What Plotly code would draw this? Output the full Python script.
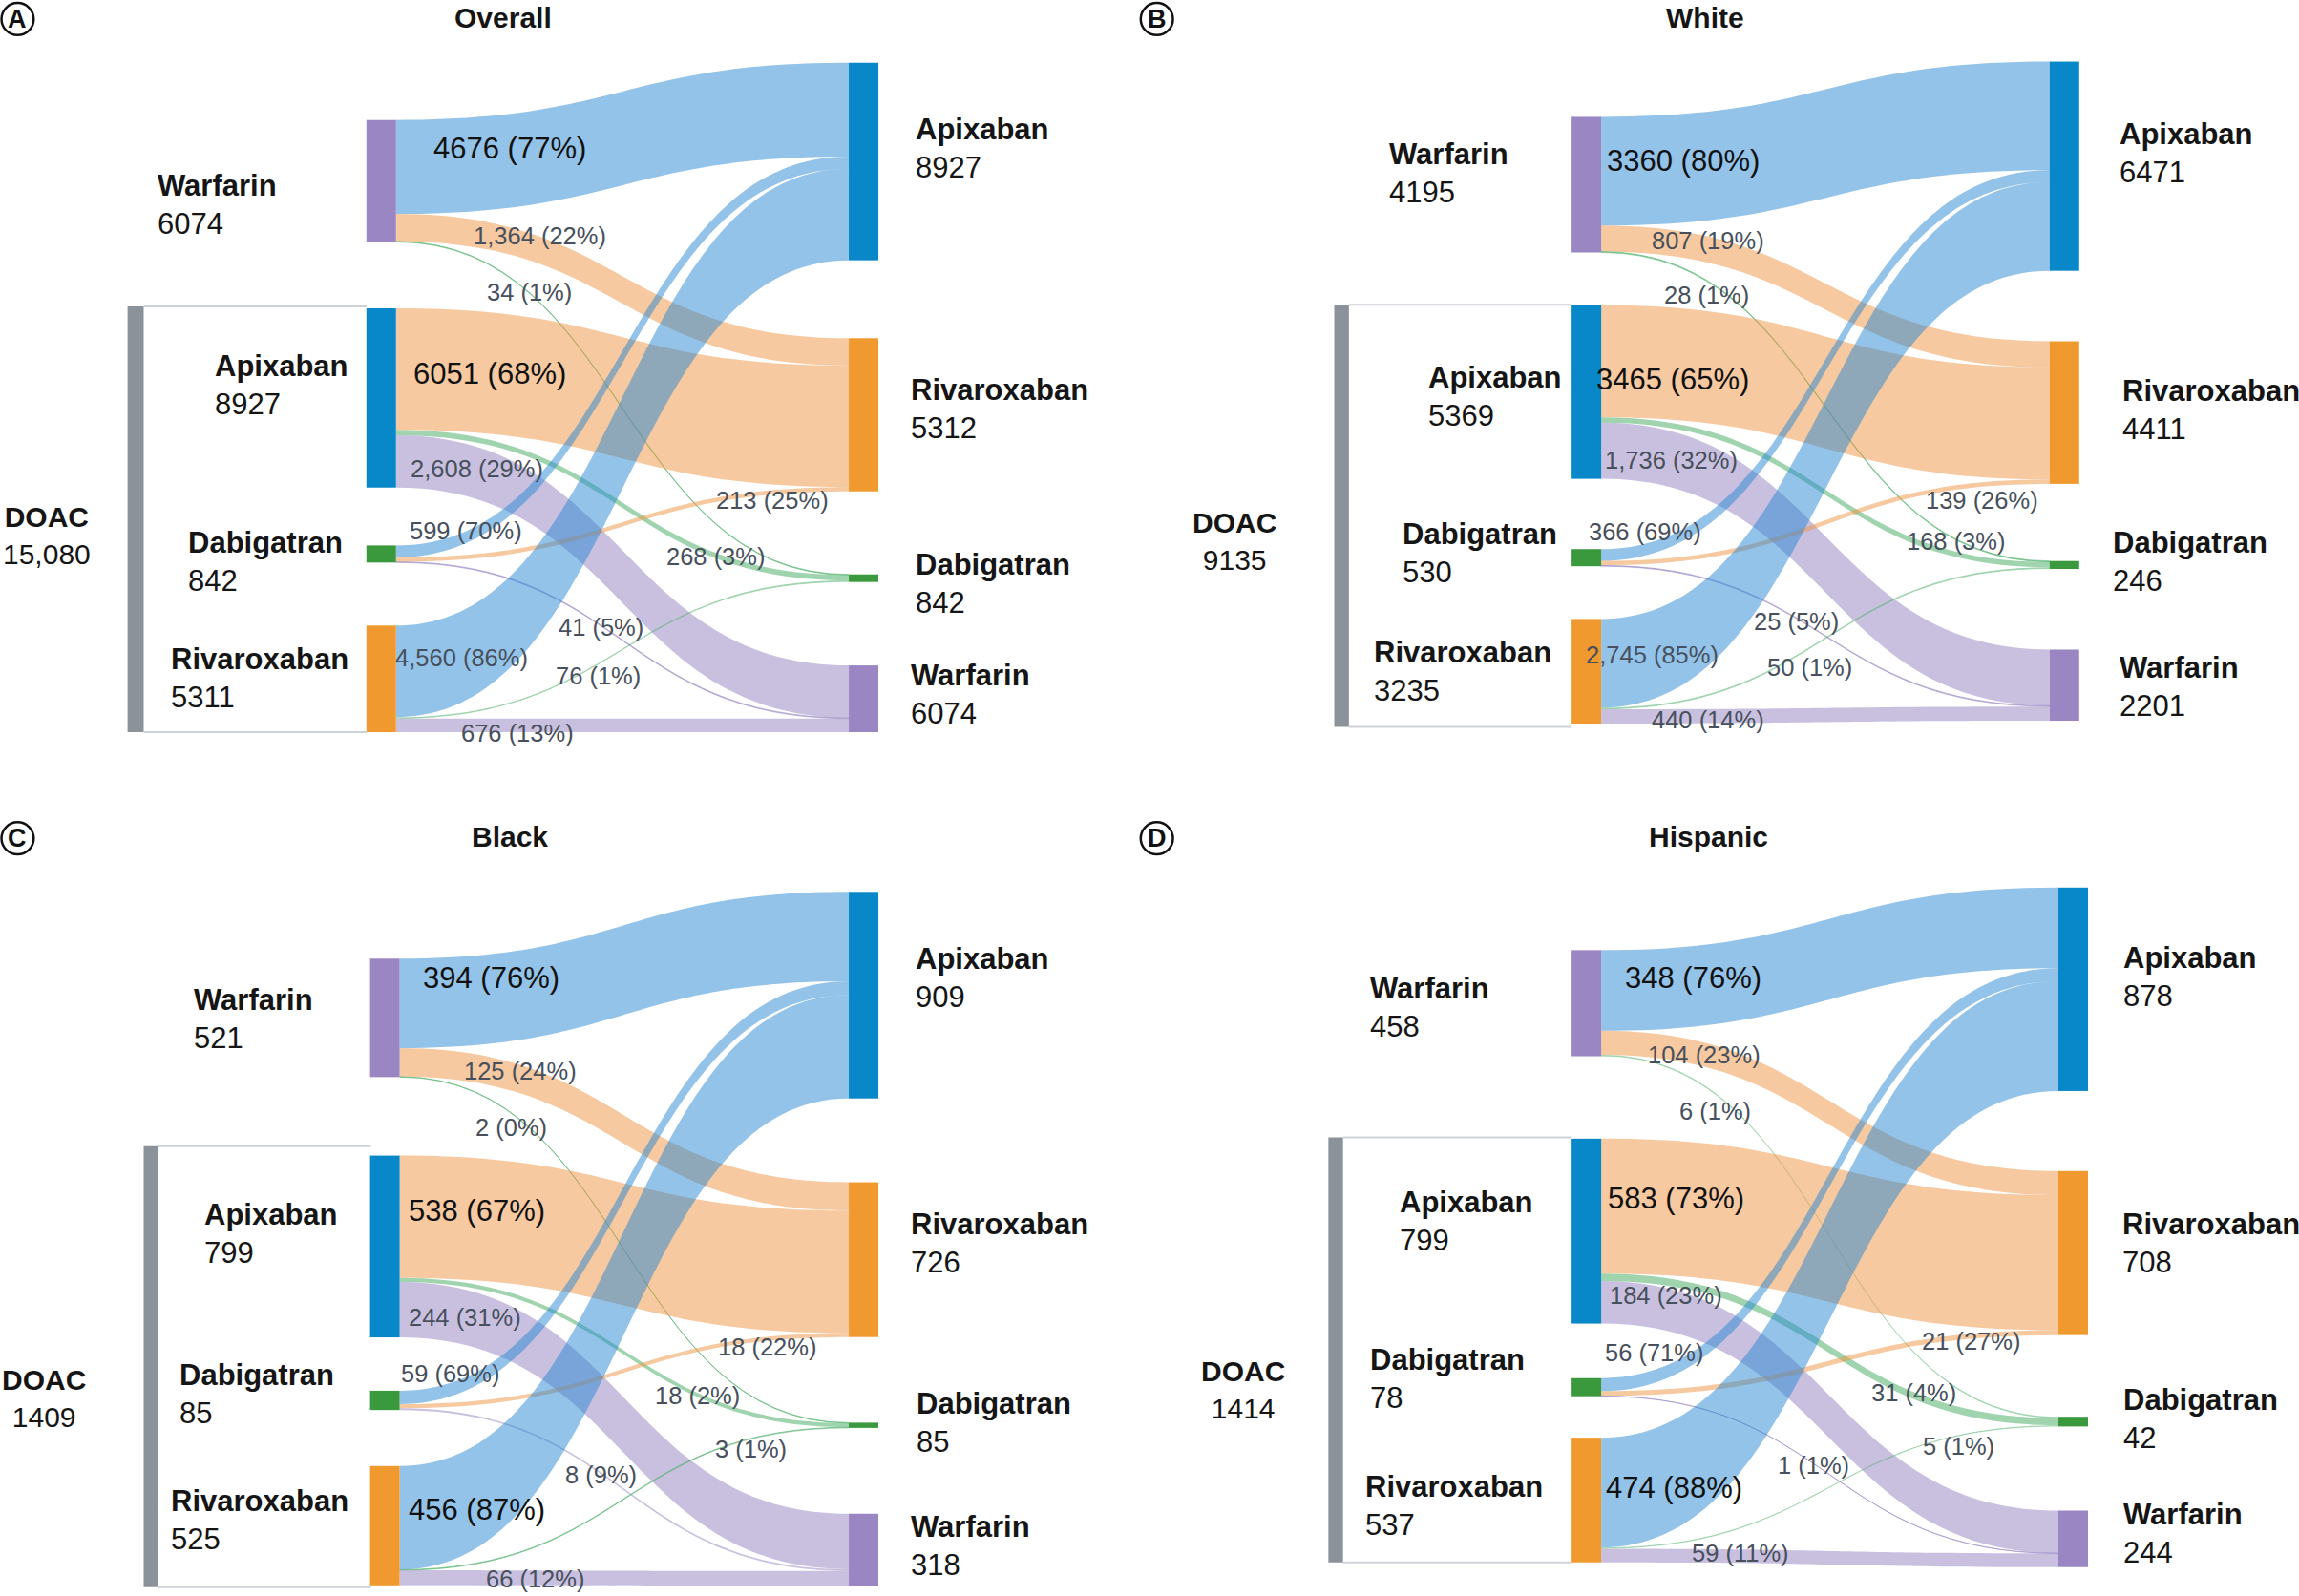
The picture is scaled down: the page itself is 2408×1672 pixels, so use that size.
import plotly.graph_objects as go

# ---- data ----
SRC_NAMES = ["Warfarin", "Apixaban", "Dabigatran", "Rivaroxaban"]
TGT_NAMES = ["Apixaban", "Rivaroxaban", "Dabigatran", "Warfarin"]

# link order: W->A, W->R, W->D, A->R, A->D, A->W, D->A, D->R, D->W, R->A, R->D, R->W
LINK_SRC = [0, 0, 0, 1, 1, 1, 2, 2, 2, 3, 3, 3]
LINK_TGT = [0, 1, 2, 1, 2, 3, 0, 1, 3, 0, 2, 3]

panel_titles = ["Overall", "White", "Black", "Hispanic"]
panel_letters = ["A", "B", "C", "D"]

overall_values = [4676, 1364, 34, 6051, 268, 2608, 599, 213, 41, 4560, 76, 676]
overall_pct = [77, 22, 1, 68, 3, 29, 70, 25, 5, 86, 1, 13]
overall_left = [6074, 8927, 842, 5311]
overall_right = [8927, 5312, 842, 6074]
overall_doac = "15,080"

white_values = [3360, 807, 28, 3465, 168, 1736, 366, 139, 25, 2745, 50, 440]
white_pct = [80, 19, 1, 65, 3, 32, 69, 26, 5, 85, 1, 14]
white_left = [4195, 5369, 530, 3235]
white_right = [6471, 4411, 246, 2201]
white_doac = "9135"

black_values = [394, 125, 2, 538, 18, 244, 59, 18, 8, 456, 3, 66]
black_pct = [76, 24, 0, 67, 2, 31, 69, 22, 9, 87, 1, 12]
black_left = [521, 799, 85, 525]
black_right = [909, 726, 85, 318]
black_doac = "1409"

hisp_values = [348, 104, 6, 583, 31, 184, 56, 21, 1, 474, 5, 59]
hisp_pct = [76, 23, 1, 73, 4, 23, 71, 27, 1, 88, 1, 11]
hisp_left = [458, 799, 78, 537]
hisp_right = [878, 708, 42, 244]
hisp_doac = "1414"

panels_data = [
    (overall_values, overall_pct, overall_left, overall_right, overall_doac),
    (white_values, white_pct, white_left, white_right, white_doac),
    (black_values, black_pct, black_left, black_right, black_doac),
    (hisp_values, hisp_pct, hisp_left, hisp_right, hisp_doac),
]

# ---- styling / placement (in 1568x1089 reference pixels) ----
RW, RH = 1568, 1089
W, H = 2408, 1672
SC = W / RW
FONT = "Liberation Sans, Arial, sans-serif"

NODE_COLORS = {"Warfarin": "#9a86c3", "Apixaban": "#0887c9",
               "Dabigatran": "#3a993d", "Rivaroxaban": "#f0992e"}
LINK_COLORS = {"Apixaban": "rgba(39,135,209,0.5)", "Rivaroxaban": "rgba(237,147,65,0.5)",
               "Dabigatran": "rgba(81,177,107,0.55)", "Warfarin": "rgba(147,129,193,0.5)"}

panel_boxes = [
    dict(x0=0, x1=784, top=43, bottom=499.5, colh=290, lx=260, rx=589,
         lcy=[123.5, 271.5, 378, 463.2], rcy=[110.2, 283, 394.5, 476.8],
         title=(343, 12), letter=(12, 13),
         lbl_l=[(106, 139.5), (145, 262.5), (127, 383.5), (115, 463)],
         lbl_r=[(623, 101.5), (620, 279), (623, 398.5), (620, 474)],
         doac=(32, 365.5), bar=(87, 98, 209, 499.5), node_left=250,
         links=[(348, 101), (368, 161), (361, 199), (334, 255), (488, 380), (325, 320),
                (318, 362), (527, 341), (410, 428), (315, 449), (408, 461), (353, 500)],
         big=[0, 3]),
    dict(x0=784, x1=1568, top=42, bottom=495.5, colh=294, lx=1082, rx=1408,
         lcy=[126, 267.5, 380.5, 458], rcy=[113.4, 281.5, 385.5, 467.5],
         title=(1163, 12), letter=(789, 13),
         lbl_l=[(946, 118.5), (973, 270.5), (955, 377.5), (936, 458.5)],
         lbl_r=[(1444, 104.5), (1446, 279.5), (1440, 383.5), (1444, 468.5)],
         doac=(842, 369), bar=(910, 920, 208, 496), node_left=1072,
         links=[(1148, 110), (1165, 164), (1164, 201), (1141, 259), (1334, 369), (1140, 314),
                (1122, 363), (1352, 341), (1225, 424), (1127, 447), (1234, 455), (1165, 491)],
         big=[0, 3]),
    dict(x0=0, x1=784, top=612, bottom=1082, colh=299.5, lx=262.5, rx=589,
         lcy=[694.5, 850.5, 955.5, 1041], rcy=[679, 859.5, 972.5, 1057.5],
         title=(348, 571), letter=(12, 572),
         lbl_l=[(131, 695.5), (138, 841.5), (121, 951.5), (115, 1037.5)],
         lbl_r=[(623, 667.5), (620, 848.5), (624, 971), (620, 1054.5)],
         doac=(30, 954.5), bar=(98, 108, 782, 1083), node_left=253,
         links=[(335, 667), (355, 731), (349, 769), (325, 826), (476, 952), (317, 899),
                (307, 937), (523, 919), (410, 1006), (325, 1030), (512, 989), (365, 1077)],
         big=[0, 3, 9]),
    dict(x0=784, x1=1568, top=607, bottom=1067.5, colh=296, lx=1082, rx=1414,
         lcy=[684.5, 840, 946.5, 1023.5], rcy=[675, 855, 970, 1050],
         title=(1165, 571), letter=(789, 572),
         lbl_l=[(933, 687.5), (953, 833.5), (933, 940.5), (930, 1027.5)],
         lbl_r=[(1447, 666.5), (1446, 848.5), (1447, 968.5), (1447, 1046.5)],
         doac=(848, 948), bar=(906, 916, 776, 1066), node_left=1072,
         links=[(1155, 667), (1162, 720), (1170, 758), (1143, 818), (1305, 950), (1136, 884),
                (1128, 923), (1344, 915), (1237, 1000), (1142, 1015), (1336, 987), (1187, 1060)],
         big=[0, 3, 9]),
]


def px(x):
    return x / RW


def py(y):
    return 1 - y / RH


fig = go.Figure()
annotations = []
shapes = []

for (values, pct, left_tot, right_tot, doac), box, title, letter in zip(
        panels_data, panel_boxes, panel_titles, panel_letters):
    dom_h = box["bottom"] - box["top"]
    dom_w = box["x1"] - box["x0"]
    pad = (dom_h - box["colh"]) / 3 * SC

    node_x = [(box["lx"] - box["x0"]) / dom_w] * 4 + [(box["rx"] - box["x0"]) / dom_w] * 4
    node_y = [(c - box["top"]) / dom_h for c in box["lcy"] + box["rcy"]]
    node_colors = [NODE_COLORS[n] for n in SRC_NAMES + TGT_NAMES]
    link_colors = [LINK_COLORS[TGT_NAMES[t]] for t in LINK_TGT]

    fig.add_trace(go.Sankey(
        arrangement="fixed",
        domain=dict(x=[px(box["x0"]), px(box["x1"])], y=[py(box["bottom"]), py(box["top"])]),
        node=dict(label=[""] * 8, x=node_x, y=node_y, pad=pad, thickness=31,
                  color=node_colors, line=dict(width=0)),
        link=dict(source=LINK_SRC, target=[t + 4 for t in LINK_TGT], value=values,
                  color=link_colors),
        textfont=dict(size=1, color="rgba(0,0,0,0)"),
        hoverinfo="none",
    ))

    # link labels
    for i, (v, p) in enumerate(zip(values, pct)):
        lx, ly = box["links"][i]
        if i in box["big"]:
            txt, size, col = f"{v} ({p}%)", 31, "#111111"
        else:
            txt, size, col = f"{v:,} ({p}%)", 25.5, "#47505c"
        annotations.append(dict(x=px(lx), y=py(ly), xref="paper", yref="paper", text=txt,
                                showarrow=False, font=dict(size=size, color=col, family=FONT),
                                xanchor="center", yanchor="middle"))

    # node labels
    for (lx, ly), name, tot in zip(box["lbl_l"] + box["lbl_r"], SRC_NAMES + TGT_NAMES,
                                   left_tot + right_tot):
        annotations.append(dict(x=px(lx), y=py(ly), xref="paper", yref="paper",
                                text=f"<b>{name}</b><br>{tot}", showarrow=False, align="left",
                                font=dict(size=31, color="#151515", family=FONT),
                                xanchor="left", yanchor="middle"))

    # DOAC group label
    dx, dy = box["doac"]
    annotations.append(dict(x=px(dx), y=py(dy), xref="paper", yref="paper",
                            text=f"<b>DOAC</b><br>{doac}", showarrow=False, align="center",
                            font=dict(size=30, color="#151515", family=FONT),
                            xanchor="center", yanchor="middle"))

    # title and panel letter
    tx, ty = box["title"]
    annotations.append(dict(x=px(tx), y=py(ty), xref="paper", yref="paper",
                            text=f"<b>{title}</b>", showarrow=False,
                            font=dict(size=30, color="#151515", family=FONT),
                            xanchor="center", yanchor="middle"))
    cx, cy = box["letter"]
    r = 11
    shapes.append(dict(type="circle", xref="paper", yref="paper",
                       x0=px(cx - r), x1=px(cx + r), y0=py(cy + r), y1=py(cy - r),
                       line=dict(color="#111111", width=2.5)))
    annotations.append(dict(x=px(cx), y=py(cy), xref="paper", yref="paper",
                            text=f"<b>{letter}</b>", showarrow=False,
                            font=dict(size=27, color="#111111", family=FONT),
                            xanchor="center", yanchor="middle"))

    # DOAC bracket
    bx0, bx1, by0, by1 = box["bar"]
    shapes.append(dict(type="rect", xref="paper", yref="paper",
                       x0=px(bx0), x1=px(bx1), y0=py(by1), y1=py(by0),
                       fillcolor="#8b929a", line=dict(width=0)))
    for yy in (by0, by1):
        shapes.append(dict(type="line", xref="paper", yref="paper",
                           x0=px(bx1), x1=px(box["node_left"]), y0=py(yy), y1=py(yy),
                           line=dict(color="#cdd1d8", width=2)))

fig.update_layout(
    width=W, height=H,
    margin=dict(l=0, r=0, t=0, b=0),
    paper_bgcolor="white",
    font=dict(family=FONT),
    annotations=annotations,
    shapes=shapes,
)

fig.write_html("out.html", config={"displayModeBar": False},
               post_script="document.body.style.margin='0';document.body.style.overflow='hidden';")
